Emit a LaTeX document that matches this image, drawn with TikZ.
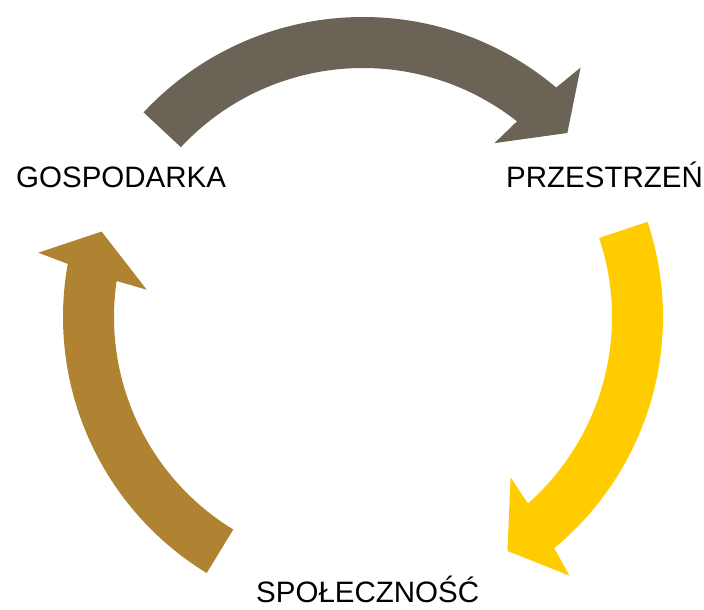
\documentclass[tikz,border=0pt]{standalone}
\usepackage{fontspec}
\setmainfont{Liberation Sans}
\definecolor{taupe}{RGB}{108,99,87}
\definecolor{gold}{RGB}{255,204,0}
\definecolor{ochre}{RGB}{176,131,51}

\begin{document}
\begin{tikzpicture}[x=1pt,y=1pt]
  \tikzstyle{every node}+=[inner sep=0pt, anchor=base west, text depth=0pt, font=\fontsize{29.5}{34}\selectfont]
  \tikzstyle{cyclearrow}=[draw=none]
  \useasboundingbox (-363,-293) rectangle (341,317);
  % top arrow
  \fill [taupe, cyclearrow] (137:300) arc[start angle=137, end angle=49.9, radius=300]
    -- (48.9:331) -- (42:275) -- (52.9:218) -- (51.8:249)
    arc[start angle=51.8, end angle=137, radius=249] -- cycle;
  % right arrow
  \fill [gold, cyclearrow] (18.5:300) arc[start angle=18.5, end angle=-50.4, radius=300]
    -- (-51.4:331) -- (-58.3:275) -- (-47.4:218) -- (-48.5:249)
    arc[start angle=-48.5, end angle=18.5, radius=249] -- cycle;
  % left arrow
  \fill [ochre, cyclearrow] (238.6:300) arc[start angle=238.6, end angle=169.8, radius=300]
    -- (168.8:331) -- (161.9:275) -- (172.8:218) -- (171.7:249)
    arc[start angle=171.7, end angle=238.6, radius=249] -- cycle;
  \node (gosp) at (-347,129) {GOSPODARKA};
  \node (przes) at (143,129) {PRZESTRZEŃ};
  \node (spol) at (-107,-285) {SPOŁECZNOŚĆ};
\end{tikzpicture}
\end{document}
